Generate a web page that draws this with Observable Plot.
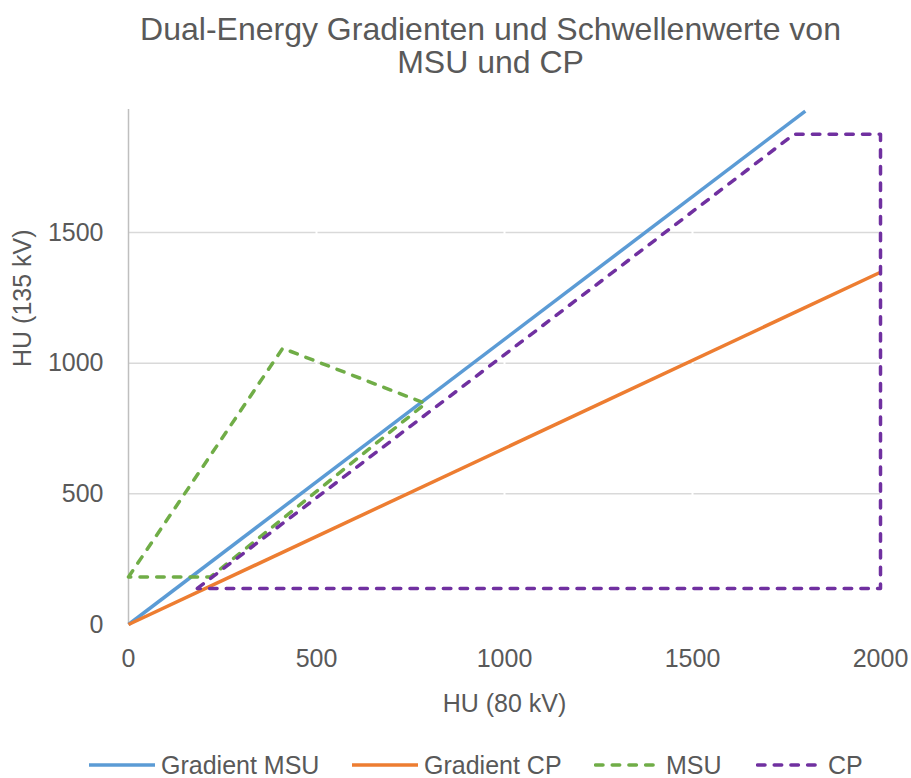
<!DOCTYPE html>
<html><head><meta charset="utf-8">
<script src="https://cdn.jsdelivr.net/npm/d3@7"></script>
<script src="https://cdn.jsdelivr.net/npm/@observablehq/plot@0.6"></script>
<style>
body{margin:0;background:#fff;font-family:"Liberation Sans",Arial,sans-serif;color:#595959}
#wrap{position:relative;width:911px;height:778px;overflow:hidden}
#title{position:absolute;left:0;top:13px;width:981px;text-align:center;font-size:32px;line-height:33px}
#chart{position:absolute;left:0;top:0}
.leg{position:absolute;top:750px;height:30px;display:flex;align-items:center;font-size:25px;white-space:nowrap}
.leg svg{margin-right:6px}
</style></head><body>
<div id="wrap">
<div id="chart"></div>
<div id="title">Dual-Energy Gradienten und Schwellenwerte von<br>MSU und CP</div>
<div id="legend"></div>
</div>
<script>
// Series names & colours
const seriesNames = ["Gradient MSU", "Gradient CP", "MSU", "CP"];
const seriesColors = ["#5b9bd5", "#ed7d31", "#70ad47", "#7030a0"];
const seriesDashed = [false, false, true, true];

// Values
const gradMSU_x = [0, 1800];
const gradMSU_y = [0, 1965];
const gradCP_x = [0, 2000];
const gradCP_y = [0, 1348];
const msu_x = [0, 410, 790, 218, 0];
const msu_y = [182, 1057, 846, 182, 182];
const cp_x = [183, 1770, 2000, 2000, 183];
const cp_y = [138, 1876, 1876, 138, 138];

// Tick labels
const xTicks = [0, 500, 1000, 1500, 2000];
const yTicks = [0, 500, 1000, 1500];

const seriesX = [gradMSU_x, gradCP_x, msu_x, cp_x];
const seriesY = [gradMSU_y, gradCP_y, msu_y, cp_y];
const table = seriesNames.map((name, i) => seriesX[i].map((x, j) => ({series: name, order: j, x, y: seriesY[i][j]})));

const dash = "7.5 9.2";
const lineMarks = table.map((rows, i) => Plot.line(rows, {
  x: "x", y: "y",
  stroke: seriesColors[i], strokeWidth: 3.5,
  strokeDasharray: seriesDashed[i] ? dash : null,
  strokeLinecap: seriesDashed[i] ? "round" : "butt",
  strokeLinejoin: "round"
}));

const chart = Plot.plot({
  width: 911, height: 778,
  marginTop: 109, marginRight: 31, marginBottom: 154, marginLeft: 128,
  style: {fontFamily: "Liberation Sans, Arial, sans-serif", fontSize: "25px", color: "#595959", background: "transparent", overflow: "visible"},
  x: {domain: [0, 2000]},
  y: {domain: [0, 1971]},
  marks: [
    Plot.ruleY(yTicks.filter(d => d > 0), {stroke: "#d9d9d9", strokeWidth: 1.5}),
    Plot.ruleX(xTicks.slice(1, -1), {stroke: "#ffffff", strokeWidth: 2}),
    Plot.ruleX([0], {stroke: "#bfbfbf", strokeWidth: 1.5}),
    Plot.axisX({ticks: xTicks, tickSize: 0, tickPadding: 25, label: null, fill: "#595959", tickFormat: d => String(d)}),
    Plot.axisY({ticks: yTicks, tickSize: 0, tickPadding: 25, label: null, fill: "#595959", tickFormat: d => String(d)}),
    ...lineMarks,
    Plot.text(["HU (80 kV)"], {text: d => d, frameAnchor: "bottom", dy: 87, fill: "#595959", fontSize: 25}),
    Plot.text(["HU (135 kV)"], {text: d => d, frameAnchor: "left", dx: -106, rotate: -90, fill: "#595959", fontSize: 25})
  ]
});
document.getElementById("chart").appendChild(chart);

// Legend
const legLefts = [89, 352, 594, 756];
const legend = document.getElementById("legend");
seriesNames.forEach((name, i) => {
  const item = document.createElement("div");
  item.className = "leg";
  item.style.left = legLefts[i] + "px";
  const w = 66;
  item.innerHTML = `<svg width="${w}" height="10"><line x1="${seriesDashed[i] ? 1.5 : 0}" y1="5" x2="${seriesDashed[i] ? 1.5 + 4 * 16.7 + 0.3 : w}" y2="5" stroke="${seriesColors[i]}" stroke-width="3.5" ${seriesDashed[i] ? `stroke-dasharray="${dash}" stroke-linecap="round"` : ""}/></svg><span>${name}</span>`;
  legend.appendChild(item);
});
</script>
</body></html>
